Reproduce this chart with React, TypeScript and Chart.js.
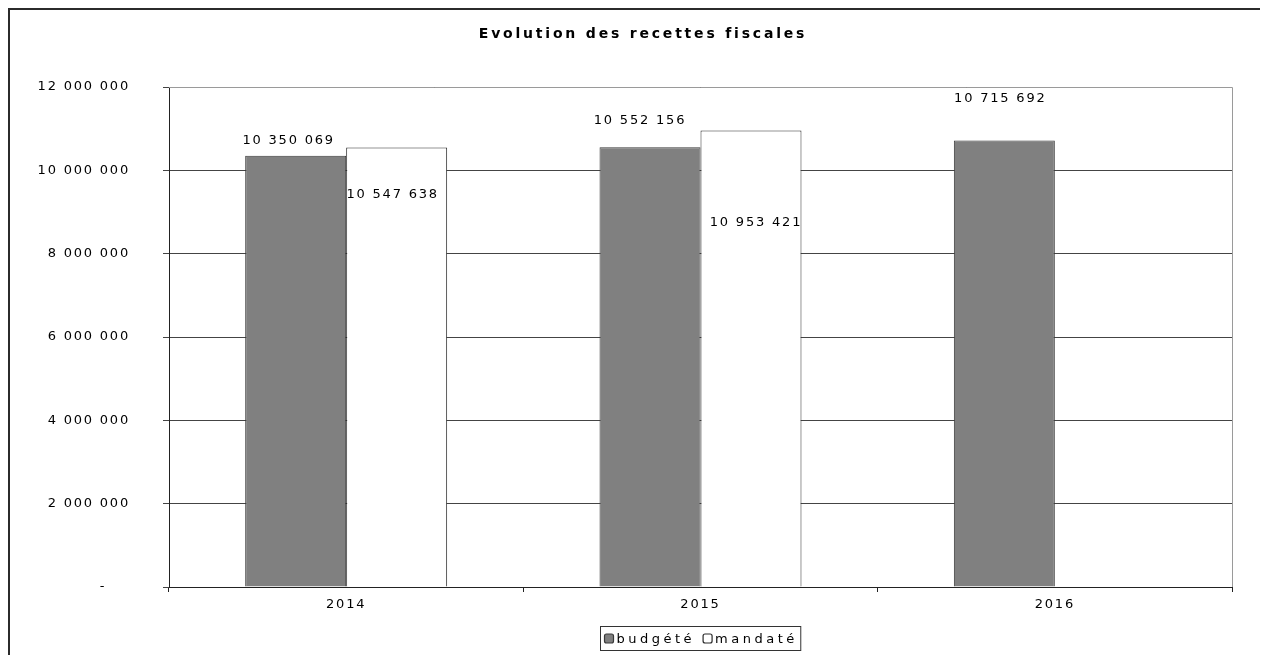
import React, { useEffect, useRef } from 'react';
import { Chart, registerables } from 'chart.js';

Chart.register(...registerables);

const chartTitle = 'Evolution des recettes fiscales';
const categories = ['2014', '2015', '2016'];
const seriesNames = ['budgété', 'mandaté'];
const budgete: (number | null)[] = [10350069, 10552156, 10715692];
const mandate: (number | null)[] = [10547638, 10953421, null];
const yMin = 0;
const yMax = 12000000;
const yStep = 2000000;

// data-label placement relative to the bar top (pixels), as in the reference
const labelDy = [
  [-15, -27, -42],
  [47, 92, 0],
];
const labelDx = [
  [-7, -10, -4],
  [-4, 5, 0],
];

const FONT = 'DejaVu Sans';
const SPACING = '1.8px';
const TITLE_SPACING = '2.8px';
const LEGEND_SPACING = '3.5px';

const fmt = (v: number) =>
  Math.round(v)
    .toString()
    .replace(/\B(?=(\d{3})+(?!\d))/g, ' ');

const spacingPlugin = {
  id: 'spacing',
  beforeLayout(chart: any) {
    chart.ctx.letterSpacing = SPACING;
  },
  beforeDraw(chart: any) {
    chart.ctx.letterSpacing = SPACING;
  },
};

const framePlugin = {
  id: 'frame',
  beforeDatasetsDraw(chart: any) {
    const { ctx, chartArea } = chart;
    ctx.save();
    ctx.strokeStyle = '#9a9a9a';
    ctx.lineWidth = 1;
    ctx.beginPath();
    ctx.moveTo(chartArea.left, chartArea.top + 0.5);
    ctx.lineTo(chartArea.right + 0.5, chartArea.top + 0.5);
    ctx.lineTo(chartArea.right + 0.5, chartArea.bottom);
    ctx.stroke();
    ctx.restore();
  },
  afterDraw(chart: any) {
    const { ctx } = chart;
    ctx.save();
    ctx.fillStyle = '#2b2b2b';
    ctx.fillRect(0, 0, 2, chart.height);
    ctx.fillRect(0, 0, chart.width, 2);
    ctx.restore();
  },
};

const labelPlugin = {
  id: 'barLabels',
  afterDatasetsDraw(chart: any) {
    const { ctx } = chart;
    ctx.save();
    ctx.letterSpacing = SPACING;
    ctx.font = `13px "${FONT}"`;
    ctx.fillStyle = '#000';
    ctx.textAlign = 'center';
    ctx.textBaseline = 'middle';
    chart.data.datasets.forEach((ds: any, i: number) => {
      const meta = chart.getDatasetMeta(i);
      meta.data.forEach((bar: any, j: number) => {
        const v = ds.data[j];
        if (v == null) return;
        ctx.fillText(fmt(v), bar.x + labelDx[i][j], bar.y + labelDy[i][j]);
      });
    });
    ctx.restore();
  },
};

const legendPlugin = {
  id: 'boxLegend',
  afterDraw(chart: any) {
    const { ctx, chartArea } = chart;
    ctx.save();
    ctx.letterSpacing = LEGEND_SPACING;
    ctx.font = `13px "${FONT}"`;
    const sq = 9;
    const gap = 3;
    const itemGap = 8;
    const padL = 4;
    const padR = 3;
    const items = chart.data.datasets.map((ds: any) => ({
      text: ds.label,
      fill: ds.backgroundColor,
      stroke: ds.borderColor,
      w: ctx.measureText(ds.label).width,
    }));
    let total = padL + padR;
    items.forEach((it: any, k: number) => {
      total += sq + gap + it.w + (k < items.length - 1 ? itemGap : 0);
    });
    const cx = (chartArea.left + chartArea.right) / 2;
    const h = 24;
    const top = chartArea.bottom + 39;
    const left = Math.round(cx - total / 2) + 0.5;
    ctx.fillStyle = '#fff';
    ctx.fillRect(left, top + 0.5, total, h);
    ctx.strokeStyle = '#333';
    ctx.lineWidth = 1;
    ctx.strokeRect(left, top + 0.5, total, h);
    let x = left + padL;
    const midY = top + 0.5 + h / 2;
    items.forEach((it: any) => {
      ctx.beginPath();
      ctx.roundRect(x, midY - sq / 2, sq, sq, 2);
      ctx.fillStyle = it.fill;
      ctx.fill();
      ctx.strokeStyle = it.stroke;
      ctx.lineWidth = 1.2;
      ctx.stroke();
      x += sq + gap;
      ctx.fillStyle = '#000';
      ctx.textAlign = 'left';
      ctx.textBaseline = 'middle';
      ctx.fillText(it.text, x, midY + 1);
      x += it.w + itemGap;
    });
    ctx.restore();
  },
};

// draws the title with wider letter spacing (title plugin of Chart.js disabled)
const spacedTitlePlugin = {
  id: 'spacedTitleDraw',
  afterDraw(chart: any) {
    const { ctx } = chart;
    ctx.save();
    ctx.letterSpacing = TITLE_SPACING;
    ctx.font = `bold 14px "${FONT}"`;
    ctx.fillStyle = '#000';
    ctx.textAlign = 'center';
    ctx.textBaseline = 'middle';
    ctx.fillText(chartTitle, 635, 26);
    ctx.restore();
  },
};

export default function App() {
  const ref = useRef<HTMLCanvasElement | null>(null);

  useEffect(() => {
    document.body.style.overflow = 'hidden';
    const canvas = ref.current;
    if (!canvas) return;
    const chart = new Chart(canvas, {
      type: 'bar',
      data: {
        labels: categories,
        datasets: [
          {
            label: seriesNames[0],
            data: budgete,
            backgroundColor: '#808080',
            borderColor: '#3a3a3a',
            borderWidth: 1,
            barPercentage: 1,
            categoryPercentage: 0.57,
          },
          {
            label: seriesNames[1],
            data: mandate,
            backgroundColor: '#ffffff',
            borderColor: '#2a2a2a',
            borderWidth: 1,
            barPercentage: 1,
            categoryPercentage: 0.57,
          },
        ],
      },
      options: {
        animation: false,
        responsive: true,
        maintainAspectRatio: false,
        layout: { padding: { left: 0, right: 36, top: 79, bottom: 38 } },
        plugins: {
          legend: { display: false },
          tooltip: { enabled: false },
          title: { display: false },
        },
        scales: {
          x: {
            offset: true,
            grid: {
              display: true,
              drawOnChartArea: false,
              offset: true,
              tickLength: 5,
              color: '#222',
            },
            border: { display: true, color: '#222', width: 1 },
            ticks: {
              color: '#000',
              padding: 5,
              font: { family: FONT, size: 13 },
            },
            afterFit: (s: any) => {
              s.height = 30;
            },
          },
          y: {
            min: yMin,
            max: yMax,
            grid: {
              color: '#444',
              lineWidth: 1,
              tickLength: 6,
            },
            border: { display: true, color: '#222', width: 1 },
            ticks: {
              stepSize: yStep,
              color: '#000',
              padding: 33,
              font: { family: FONT, size: 13 },
              callback: (v: any) => (Number(v) === 0 ? '-    ' : fmt(Number(v))),
            },
            afterFit: (s: any) => {
              s.width = 161;
            },
          },
        },
      },
      plugins: [spacingPlugin, framePlugin, labelPlugin, legendPlugin, spacedTitlePlugin],
    } as any);
    return () => chart.destroy();
  }, []);

  return (
    <div style={{ position: 'relative', width: '1260px', height: '647px', overflow: 'hidden' }}>
      <canvas ref={ref} />
    </div>
  );
}
